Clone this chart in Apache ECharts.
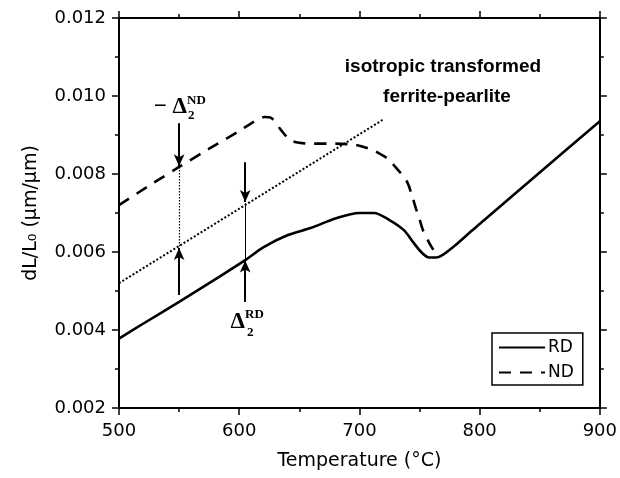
<!DOCTYPE html>
<html>
<head>
<meta charset="utf-8">
<script src="https://cdn.jsdelivr.net/npm/echarts@6/dist/echarts.min.js"></script>
<style>
  html, body { margin: 0; padding: 0; background: #fff; }
  #main { width: 620px; height: 478px; }
</style>
</head>
<body>
<div id="main"></div>
<script>
// dilatometry curves, temperature (°C) vs dL/L0
const rdPoints = [
  [500, 0.00378], [520, 0.00416], [550, 0.00472], [580, 0.0053], [605, 0.00579],
  [620, 0.00612], [640, 0.00643], [660, 0.00662], [680, 0.00686], [700, 0.007],
  [712, 0.007], [725, 0.00682], [737, 0.00656], [745, 0.00624], [752, 0.00598],
  [758, 0.00586], [764, 0.00586], [778, 0.00613], [790, 0.00645], [800, 0.00672],
  [850, 0.00804], [900, 0.00935]
]
const ndPoints = [
  [500, 0.0072], [525, 0.0077], [550, 0.00818], [575, 0.00865], [600, 0.0091],
  [610, 0.0093], [621, 0.00946], [627, 0.00943], [635, 0.00912], [642, 0.00888],
  [650, 0.0088], [660, 0.00878], [680, 0.00878], [696, 0.00875], [703, 0.0087],
  [712, 0.0086], [718, 0.0085], [724, 0.00838], [730, 0.00818], [735, 0.008],
  [740, 0.00778], [744, 0.00742], [747, 0.00712], [750, 0.00684], [753, 0.00655],
  [757, 0.0063], [760, 0.00613], [765, 0.0059]
]
// isotropic transformed ferrite-pearlite reference line
const isoPoints = [[500, 0.0052], [720, 0.0094]]
// arrows: [temperature, from, to]
const arrowsDown = [[550, 0.0093, 0.0082], [605, 0.0083, 0.00728]]
const arrowsUp = [[550, 0.0049, 0.0061], [605, 0.00472, 0.00578]]
const dottedGap = [550, 0.00818, 0.00615]
const thinGap = [605, 0.00725, 0.00576]

const xTicks = { min: 500, max: 900, interval: 100 }
const yTicks = { min: 0.002, max: 0.012, interval: 0.002 }

const chart = echarts.init(document.getElementById('main'))

const axisFont = 'DejaVu Sans'
const axisLine = { lineStyle: { color: '#000', width: 2 } }
const tick = { show: true, inside: false, length: 7, lineStyle: { color: '#000', width: 1.5 } }
const minor = { show: true, splitNumber: 2, length: 4, lineStyle: { color: '#000', width: 1.5 } }

const arrowLines = []
arrowsDown.concat(arrowsUp).forEach((a) => {
  arrowLines.push([
    { coord: [a[0], a[1]], symbol: 'none' },
    { coord: [a[0], a[2]], symbol: 'arrow', symbolSize: [8, 12], lineStyle: { color: '#000', width: 2, type: 'solid' } },
  ])
})
arrowLines.push([
  { coord: [dottedGap[0], dottedGap[1]], symbol: 'none' },
  { coord: [dottedGap[0], dottedGap[2]], symbol: 'none', lineStyle: { color: '#000', width: 1.2, type: [1.5, 1.5] } },
])
arrowLines.push([
  { coord: [thinGap[0], thinGap[1]], symbol: 'none' },
  { coord: [thinGap[0], thinGap[2]], symbol: 'none', lineStyle: { color: '#000', width: 1, type: 'solid' } },
])

const serif = '"Liberation Serif", "DejaVu Serif", serif'

chart.setOption({
  backgroundColor: '#fff',
  animation: false,
  grid: { left: 119, right: 15, top: 18, bottom: 70 },
  legend: {
    data: ['RD', 'ND'],
    orient: 'vertical',
    left: 492,
    top: 333,
    padding: [6, 9, 4, 6],
    itemWidth: 46,
    itemHeight: 14,
    itemGap: 8,
    borderColor: '#000',
    borderWidth: 1.5,
    borderRadius: 0,
    itemStyle: { opacity: 0 },
    textStyle: { fontFamily: axisFont, fontSize: 17, color: '#000', padding: [0, 0, 0, -2] },
  },
  xAxis: [
    {
      type: 'value',
      min: xTicks.min,
      max: xTicks.max,
      interval: xTicks.interval,
      name: 'Temperature (°C)',
      nameLocation: 'middle',
      nameGap: 44,
      nameTextStyle: { fontFamily: axisFont, fontSize: 19, color: '#000' },
      axisLine: axisLine,
      axisTick: tick,
      minorTick: minor,
      splitLine: { show: false },
      axisLabel: { fontFamily: axisFont, fontSize: 18, color: '#000', margin: 14 },
    },
    {
      type: 'value',
      position: 'top',
      min: xTicks.min,
      max: xTicks.max,
      interval: xTicks.interval,
      axisLine: axisLine,
      axisTick: tick,
      minorTick: minor,
      splitLine: { show: false },
      axisLabel: { show: false },
    },
  ],
  yAxis: [
    {
      type: 'value',
      min: yTicks.min,
      max: yTicks.max,
      interval: yTicks.interval,
      name: 'dL/L₀ (μm/μm)',
      nameLocation: 'middle',
      nameGap: 78,
      nameTextStyle: { fontFamily: axisFont, fontSize: 19, color: '#000' },
      axisLine: axisLine,
      axisTick: tick,
      minorTick: minor,
      splitLine: { show: false },
      axisLabel: {
        fontFamily: axisFont,
        fontSize: 18,
        color: '#000',
        margin: 13,
        formatter: (v) => v.toFixed(3),
      },
    },
    {
      type: 'value',
      position: 'right',
      min: yTicks.min,
      max: yTicks.max,
      interval: yTicks.interval,
      axisLine: axisLine,
      axisTick: tick,
      minorTick: minor,
      splitLine: { show: false },
      axisLabel: { show: false },
    },
  ],
  series: [
    {
      name: 'RD',
      type: 'line',
      data: rdPoints,
      showSymbol: false,
      symbol: 'none',
      smooth: 0.3,
      lineStyle: { color: '#000', width: 2.6, type: 'solid' },
      itemStyle: { color: '#000' },
    },
    {
      name: 'ND',
      type: 'line',
      data: ndPoints,
      showSymbol: false,
      symbol: 'none',
      smooth: 0.3,
      lineStyle: { color: '#000', width: 2.6, type: [12, 9] },
      itemStyle: { color: '#000' },
    },
    {
      name: 'iso',
      type: 'line',
      data: isoPoints,
      showSymbol: false,
      symbol: 'none',
      lineStyle: { color: '#000', width: 2, type: [2, 2] },
      markLine: {
        silent: true,
        label: { show: false },
        data: arrowLines,
      },
    },
  ],
  graphic: [
    {
      type: 'text',
      x: 443,
      y: 67,
      style: { text: 'isotropic transformed', font: 'bold 19px "Liberation Sans", Arial, sans-serif', fill: '#000', textAlign: 'center', textVerticalAlign: 'middle' },
    },
    {
      type: 'text',
      x: 447,
      y: 97,
      style: { text: 'ferrite-pearlite', font: 'bold 19px "Liberation Sans", Arial, sans-serif', fill: '#000', textAlign: 'center', textVerticalAlign: 'middle' },
    },
    // -Δ2 ND
    { type: 'text', x: 187, y: 107, style: { text: '− Δ', font: 'bold 23px ' + serif, fill: '#000', textAlign: 'right', textVerticalAlign: 'middle' } },
    { type: 'text', x: 187, y: 101, style: { text: 'ND', font: 'bold 13px ' + serif, fill: '#000', textAlign: 'left', textVerticalAlign: 'middle' } },
    { type: 'text', x: 188, y: 116, style: { text: '2', font: 'bold 13px ' + serif, fill: '#000', textAlign: 'left', textVerticalAlign: 'middle' } },
    // Δ2 RD
    { type: 'text', x: 245, y: 322, style: { text: 'Δ', font: 'bold 23px ' + serif, fill: '#000', textAlign: 'right', textVerticalAlign: 'middle' } },
    { type: 'text', x: 245, y: 315, style: { text: 'RD', font: 'bold 13px ' + serif, fill: '#000', textAlign: 'left', textVerticalAlign: 'middle' } },
    { type: 'text', x: 247, y: 333, style: { text: '2', font: 'bold 13px ' + serif, fill: '#000', textAlign: 'left', textVerticalAlign: 'middle' } },
  ],
})
</script>
</body>
</html>
